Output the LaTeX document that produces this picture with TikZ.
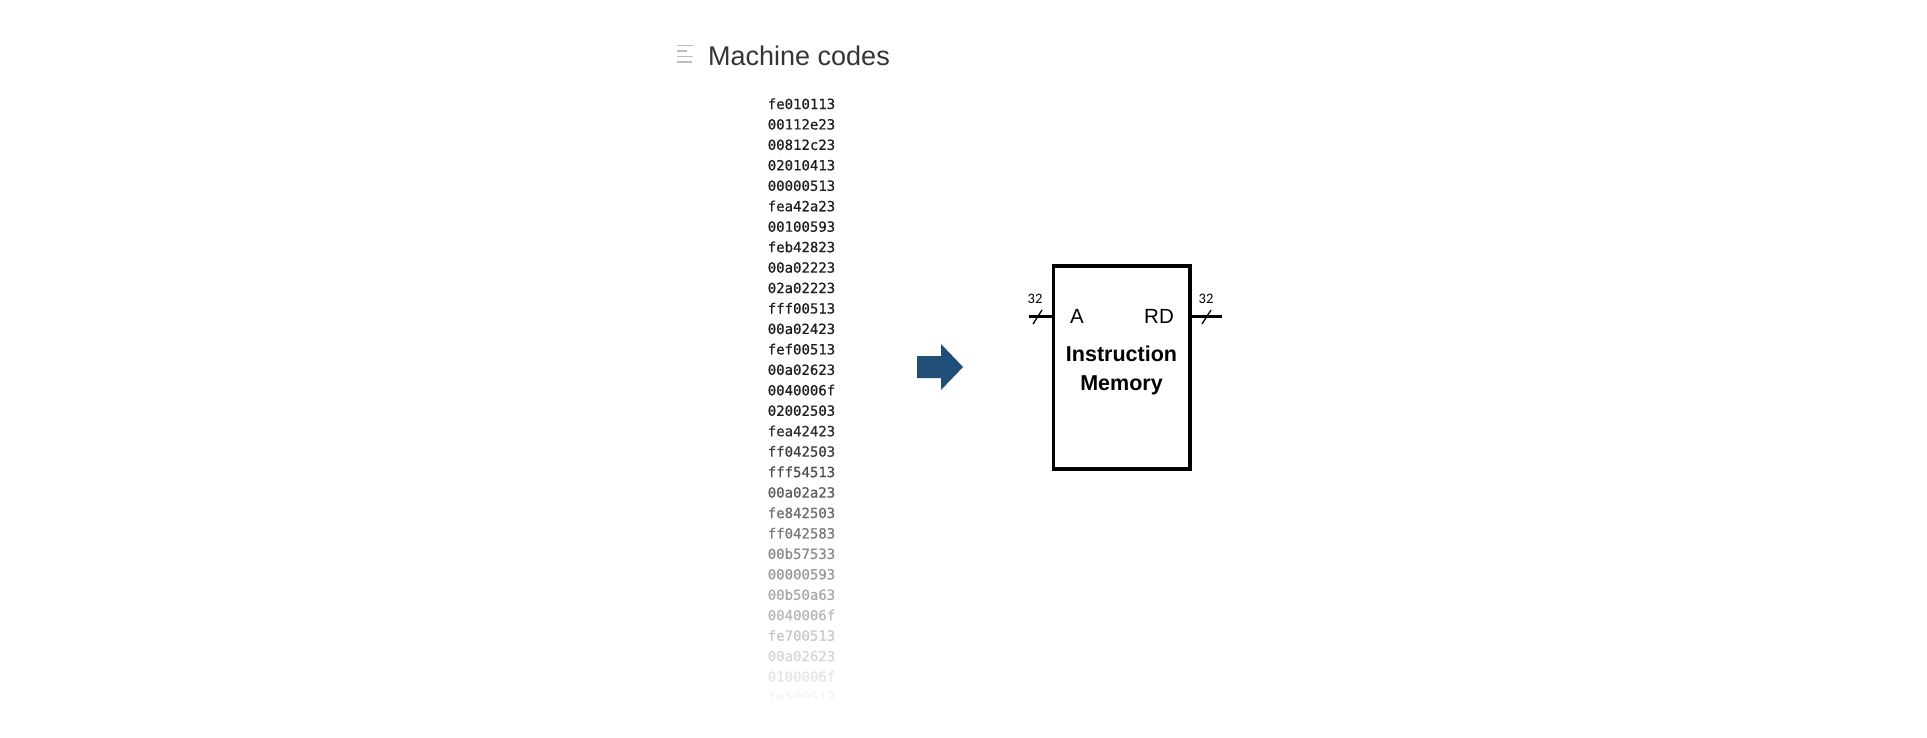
\documentclass[tikz,border=0pt]{standalone}
\usepackage{fontspec}
\setmainfont{Liberation Sans}
\newfontfamily\hexfont[FakeBold=0.6]{DejaVu Sans Mono}
\newfontfamily\busfont{Carlito}
\definecolor{titlegray}{HTML}{37352F}
\definecolor{icongray}{HTML}{BDBDBD}
\definecolor{arrowblue}{HTML}{1F4E79}
\tikzset{
  wire/.style={line width=3pt},
  busslash/.style={line width=1.3pt},
  buslabel/.style={anchor=base, inner sep=0pt, font=\busfont\fontsize{14.5}{16}\selectfont},
  portlabel/.style={inner sep=0pt, font=\fontsize{20.5}{24}\selectfont},
  hexrow/.style={anchor=base, inner sep=0pt, font=\hexfont\fontsize{14}{16}\selectfont},
  membox/.style={draw, line width=3.2pt, inner sep=0pt, minimum width=136.5pt, minimum height=203pt},
  titletext/.style={anchor=base west, inner sep=0pt, text=titlegray, font=\fontsize{27}{32}\selectfont},
  iconline/.style={icongray, line width=1.4pt}
}
\begin{document}
\begin{tikzpicture}[x=1pt,y=-1pt]
\useasboundingbox[fill=white] (0,0) rectangle (1927,737);

% title with icon
\draw[iconline] (677,45.3) -- (693,45.3);
\draw[iconline] (677,51) -- (687,51);
\draw[iconline] (677,56.3) -- (693,56.3);
\draw[iconline] (677,62) -- (692,62);
\node[titletext] (title) at (708,65) {Machine codes};

% machine code list (fading)
\begin{scope}
\clip (700,80) rectangle (900,698.5);
\foreach \h [count=\i from 0] in {fe010113,00112e23,00812c23,02010413,00000513,fea42a23,00100593,feb42823,00a02223,02a02223,fff00513,00a02423,fef00513,00a02623,0040006f,02002503,fea42423,ff042503,fff54513,00a02a23,fe842503,ff042583,00b57533,00000593,00b50a63,0040006f,fe700513,00a02623,0100006f,fe500513}{
  \pgfmathtruncatemacro\pct{\i<16 ? 88 : 88-(\i-15)*6}
  \pgfmathsetmacro\yy{109+20.45*\i}
  \node[hexrow, text=black!\pct] (hex\i) at (801.5,\yy) {\h};
}
\end{scope}

% block arrow
\fill[arrowblue] (917,356) -- (941,356) -- (941,344) -- (963,367) -- (941,390) -- (941,378) -- (917,378) -- cycle;

% instruction memory
\node[membox] (mem) at (1121.75,367.5) {};
\node[portlabel, anchor=base west] (portA) at (1070,323) {A};
\node[portlabel, anchor=base east] (portRD) at (1174,323) {RD};
\node[inner sep=0pt, anchor=base, font=\bfseries\fontsize{21.5}{28}\selectfont] (lbl1) at (1121.5,361.7) {Instruction};
\node[inner sep=0pt, anchor=base, font=\bfseries\fontsize{21.5}{28}\selectfont] (lbl2) at (1121.5,390) {Memory};

% buses
\coordinate (inA) at (1029,316.7);
\coordinate (outRD) at (1222,316.7);
\draw[wire] (inA) -- (inA -| mem.west);
\draw[wire] (mem.east |- outRD) -- (outRD);
\draw[busslash] (1033,324) -- (1042,310);
\draw[busslash] (1202,324) -- (1211,310);
\node[buslabel] (busA) at (1035,303.5) {32};
\node[buslabel] (busRD) at (1206,303.5) {32};
\end{tikzpicture}
\end{document}
